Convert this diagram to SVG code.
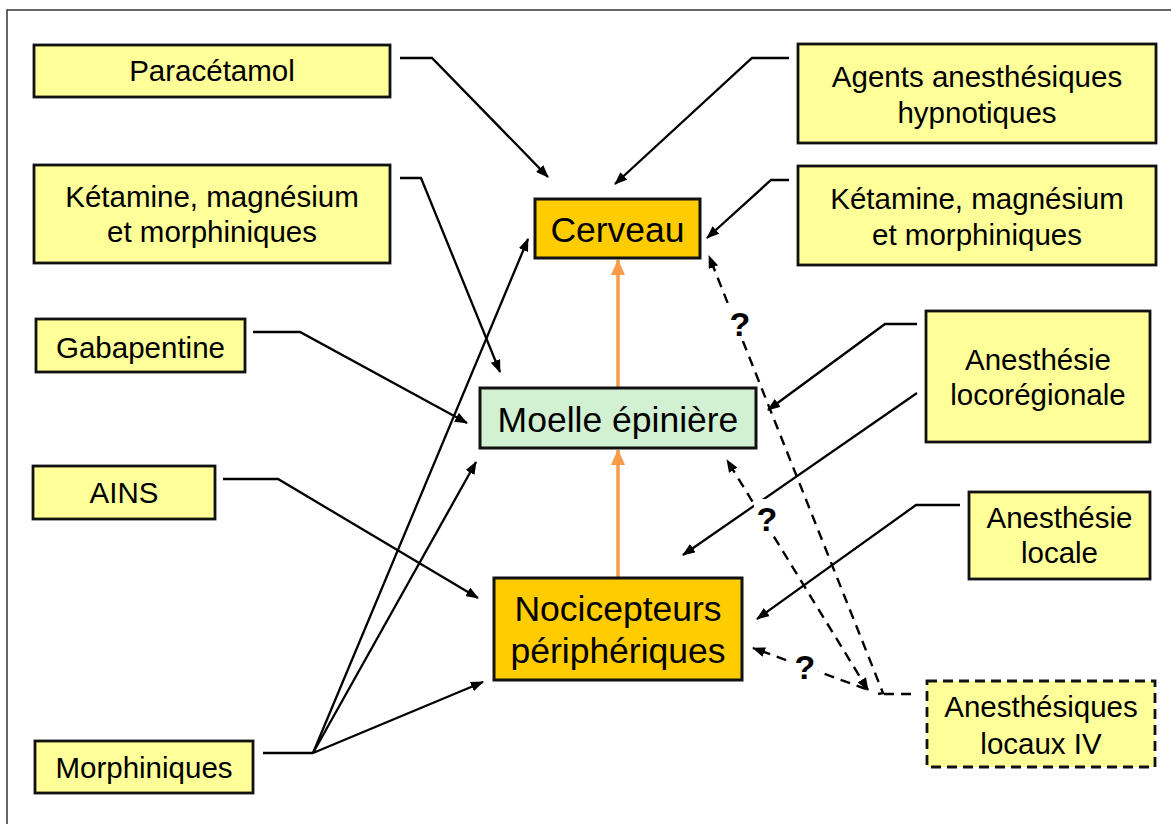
<svg xmlns="http://www.w3.org/2000/svg" width="1171" height="824" viewBox="0 0 1171 824">
<defs>
<style>
.box{fill:#ffff99;stroke:#111;stroke-width:2.8}
.dash{stroke-dasharray:10,6}
.t{font-family:"Liberation Sans",Arial,sans-serif;font-size:29.5px;fill:#000;text-anchor:middle}
.tb{font-family:"Liberation Sans",Arial,sans-serif;font-size:35.5px;fill:#000;text-anchor:middle}
.q{font-family:"Liberation Sans",Arial,sans-serif;font-size:34px;font-weight:bold;fill:#000;text-anchor:middle}
.c{fill:none;stroke:#000;stroke-width:2.3}
.cd{fill:none;stroke:#000;stroke-width:2.4;stroke-dasharray:10,7}
.o{fill:none;stroke:#f99b48;stroke-width:3.5}
</style>
<marker id="ah" markerWidth="13" markerHeight="10" refX="12" refY="5" orient="auto" markerUnits="userSpaceOnUse">
<path d="M0,0 L13,5 L0,10 z" fill="#000"/>
</marker>
<marker id="ahs" markerWidth="13" markerHeight="10" refX="12" refY="5" orient="auto-start-reverse" markerUnits="userSpaceOnUse">
<path d="M0,0 L13,5 L0,10 z" fill="#000"/>
</marker>
<marker id="ao" markerWidth="16" markerHeight="14" refX="15" refY="7" orient="auto" markerUnits="userSpaceOnUse">
<path d="M0,0 L16,7 L0,14 z" fill="#f99b48"/>
</marker>
</defs>
<rect x="0" y="0" width="1171" height="824" fill="#ffffff"/>
<path d="M7,830 L7,10 L1175,10" fill="none" stroke="#333" stroke-width="1.5"/>

<g id="connectors">
<line class="o" x1="618" y1="578" x2="618" y2="450" marker-end="url(#ao)"/>
<line class="o" x1="618" y1="388" x2="618" y2="260" marker-end="url(#ao)"/>
<polyline class="c" points="400,58 432,58 548,177" marker-end="url(#ah)"/>
<polyline class="c" points="400,178 421,178 500,372" marker-end="url(#ah)"/>
<polyline class="c" points="253,332 300,332 467,423" marker-end="url(#ah)"/>
<polyline class="c" points="223,479 278,479 478,598" marker-end="url(#ah)"/>
<line class="c" x1="263" y1="753" x2="313" y2="753"/>
<line class="c" x1="313" y1="753" x2="528" y2="239" marker-end="url(#ah)"/>
<line class="c" x1="313" y1="753" x2="476" y2="462" marker-end="url(#ah)"/>
<line class="c" x1="313" y1="753" x2="483" y2="682" marker-end="url(#ah)"/>
<polyline class="c" points="789,58 752,58 615,184" marker-end="url(#ah)"/>
<polyline class="c" points="789,180 771,180 707,238" marker-end="url(#ah)"/>
<polyline class="c" points="917,324 885,324 768,410" marker-end="url(#ah)"/>
<line class="c" x1="917" y1="393" x2="683" y2="555" marker-end="url(#ah)"/>
<polyline class="c" points="960,505 916,505 757,619" marker-end="url(#ah)"/>
<line class="cd" x1="911" y1="694" x2="878" y2="694"/>
<polyline class="cd" points="878,694 883,693 709,256" marker-end="url(#ah)"/>
<line class="cd" x1="868" y1="690" x2="727" y2="460" marker-start="url(#ahs)" marker-end="url(#ah)"/>
<line class="cd" x1="866" y1="689" x2="753" y2="648" marker-end="url(#ah)"/>
<rect x="727" y="304" width="26" height="37" fill="#fff"/>
<rect x="754" y="499" width="26" height="37" fill="#fff"/>
<rect x="792" y="647" width="26" height="35" fill="#fff"/>
<text class="q" x="740" y="336">?</text>
<text class="q" x="767" y="531">?</text>
<text class="q" x="805" y="679">?</text>
</g>

<g id="paracetamol">
<rect class="box" x="34" y="45" width="356" height="52"/>
<text class="t" x="212" y="81">Paracétamol</text>
</g>
<g id="ketamine-left">
<rect class="box" x="34" y="165" width="356" height="98"/>
<text class="t" x="212" y="207">Kétamine, magnésium</text>
<text class="t" x="212" y="242">et morphiniques</text>
</g>
<g id="gabapentine">
<rect class="box" x="36" y="319" width="209" height="53"/>
<text class="t" x="140.5" y="358">Gabapentine</text>
</g>
<g id="ains">
<rect class="box" x="33" y="466" width="182" height="53"/>
<text class="t" x="124" y="503">AINS</text>
</g>
<g id="morphiniques">
<rect class="box" x="35" y="741" width="218" height="52"/>
<text class="t" x="144" y="778">Morphiniques</text>
</g>
<g id="agents">
<rect class="box" x="798" y="44" width="358" height="99"/>
<text class="t" x="977" y="87">Agents anesthésiques</text>
<text class="t" x="977" y="123">hypnotiques</text>
</g>
<g id="ketamine-right">
<rect class="box" x="798" y="166" width="358" height="99"/>
<text class="t" x="977" y="209">Kétamine, magnésium</text>
<text class="t" x="977" y="245">et morphiniques</text>
</g>
<g id="locoregionale">
<rect class="box" x="926" y="311" width="224" height="131"/>
<text class="t" x="1038" y="370">Anesthésie</text>
<text class="t" x="1038" y="405">locorégionale</text>
</g>
<g id="locale">
<rect class="box" x="969" y="492" width="181" height="87"/>
<text class="t" x="1059.5" y="528">Anesthésie</text>
<text class="t" x="1059.5" y="563">locale</text>
</g>
<g id="locaux-iv">
<rect class="box dash" x="927" y="681" width="228" height="86"/>
<text class="t" x="1041" y="717">Anesthésiques</text>
<text class="t" x="1041" y="754">locaux IV</text>
</g>
<g id="cerveau">
<rect x="535" y="199" width="165" height="59" fill="#ffcc00" stroke="#111" stroke-width="3"/>
<text class="tb" x="617.5" y="242">Cerveau</text>
</g>
<g id="moelle">
<rect x="480" y="388" width="276" height="60" fill="#d2f0d2" stroke="#111" stroke-width="3"/>
<text class="tb" x="618" y="432">Moelle épinière</text>
</g>
<g id="nocicepteurs">
<rect x="494" y="578" width="248" height="102" fill="#ffcc00" stroke="#111" stroke-width="3"/>
<text class="tb" x="618" y="621">Nocicepteurs</text>
<text class="tb" x="618" y="663">périphériques</text>
</g>
</svg>
